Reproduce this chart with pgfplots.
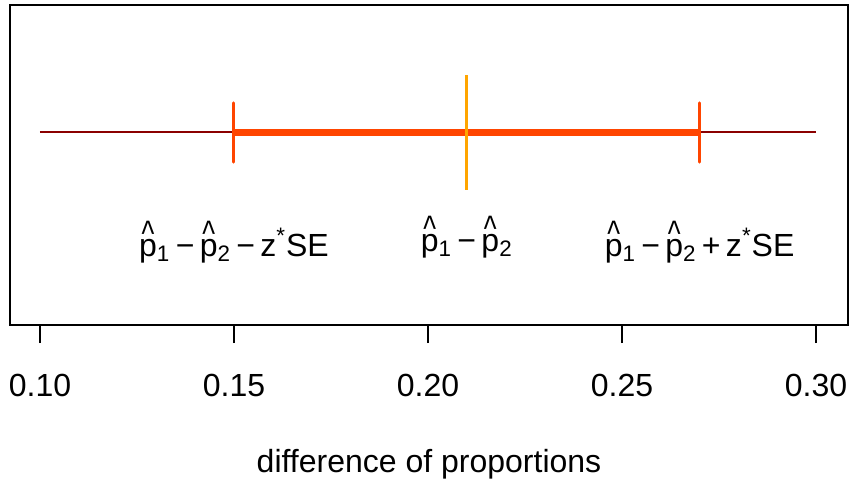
\documentclass[border=0pt]{standalone}
\usepackage{graphicx}
\usepackage{pgfplots}
\pgfplotsset{compat=1.18}
\usepackage{fontspec}
\setmainfont{Liberation Sans}
\definecolor{dred}{HTML}{8B0000}
\definecolor{ored}{HTML}{FF4500}
\definecolor{orng}{HTML}{FFA500}
\newcommand{\ph}{{\ooalign{p\cr\hfil\raisebox{0.3em}{\scalebox{0.85}[1.15]{\char"5E}}\hfil\cr}}}
\begin{document}
\fontsize{16}{19}\selectfont
\begin{tikzpicture}
\useasboundingbox (-5pt,-78pt) rectangle (420pt,162.5pt);
\begin{axis}[
  scale only axis, width=419pt, height=160pt,
  xmin=0.09227, xmax=0.30825, ymin=0, ymax=1,
  axis line style={line width=0.75pt},
  xtick={0.10,0.15,0.20,0.25,0.30},
  xtick pos=bottom, ytick=\empty,
  tick align=outside, major tick length=9pt,
  tick style={line width=0.6pt,black},
  xticklabel style={font=\fontsize{16}{19}\selectfont},
  xticklabel={\pgfmathprintnumber[fixed,precision=2,fixed zerofill,assume math mode=true]{\tick}},
  every tick label/.append style={yshift=-10pt},
  xlabel={difference of proportions},
  xlabel style={font=\fontsize{16}{19}\selectfont, yshift=-15.5pt},
  clip=false,
]
\addplot[dred, line width=1pt] coordinates {(0.10,0.603) (0.30,0.603)};
\addplot[ored, line width=3.5pt] coordinates {(0.15,0.603) (0.27,0.603)};
\addplot[ored, line width=1.5pt, line cap=round] coordinates {(0.15,0.509) (0.15,0.694)};
\addplot[ored, line width=1.5pt, line cap=round] coordinates {(0.27,0.509) (0.27,0.694)};
\addplot[orng, line width=1.6pt] coordinates {(0.21,0.422) (0.21,0.781)};
\node[font=\fontsize{16}{19}\selectfont] at (axis cs:0.15,0.25) {\ph\textsubscript{1}\,−\,\ph\textsubscript{2}\,−\,z\textsuperscript{*}SE};
\node[font=\fontsize{16}{19}\selectfont] at (axis cs:0.21,0.25) {\ph\textsubscript{1}\,−\,\ph\textsubscript{2}};
\node[font=\fontsize{16}{19}\selectfont] at (axis cs:0.27,0.25) {\ph\textsubscript{1}\,−\,\ph\textsubscript{2}\,+\,z\textsuperscript{*}SE};
\end{axis}
\end{tikzpicture}
\end{document}
